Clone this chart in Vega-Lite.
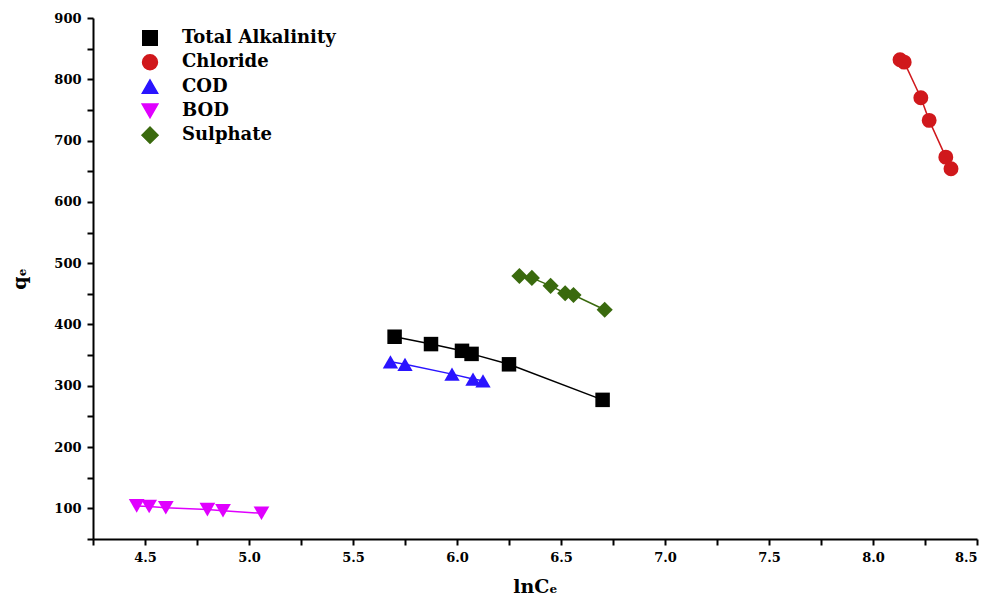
{
  "$schema": "https://vega.github.io/schema/vega-lite/v6.json",
  "autosize": "none",
  "width": 884,
  "height": 521,
  "padding": {"left": 93, "top": 18, "right": 13, "bottom": 62},
  "background": "white",
  "config": {
    "view": {"stroke": null},
    "font": "DejaVu Serif",
    "axis": {
      "grid": false,
      "domainColor": "black",
      "domainWidth": 2,
      "tickColor": "black",
      "tickWidth": 2,
      "tickSize": 6,
      "labelFont": "DejaVu Serif",
      "labelFontWeight": "bold",
      "labelFontSize": 13,
      "labelColor": "black",
      "titleFont": "DejaVu Serif",
      "titleFontWeight": "bold",
      "titleColor": "black"
    },
    "legend": {
      "labelFont": "DejaVu Serif",
      "labelFontWeight": "bold",
      "labelFontSize": 18,
      "labelColor": "black"
    }
  },
  "data": {
    "values": [
      {"s": "Total Alkalinity", "x": 5.70, "y": 380},
      {"s": "Total Alkalinity", "x": 5.875, "y": 368},
      {"s": "Total Alkalinity", "x": 6.024, "y": 357},
      {"s": "Total Alkalinity", "x": 6.07, "y": 352},
      {"s": "Total Alkalinity", "x": 6.25, "y": 335},
      {"s": "Total Alkalinity", "x": 6.70, "y": 277},
      {"s": "Chloride", "x": 8.13, "y": 832},
      {"s": "Chloride", "x": 8.15, "y": 828},
      {"s": "Chloride", "x": 8.23, "y": 770},
      {"s": "Chloride", "x": 8.27, "y": 733},
      {"s": "Chloride", "x": 8.35, "y": 673},
      {"s": "Chloride", "x": 8.375, "y": 654},
      {"s": "COD", "x": 5.68, "y": 339},
      {"s": "COD", "x": 5.75, "y": 335},
      {"s": "COD", "x": 5.976, "y": 319},
      {"s": "COD", "x": 6.077, "y": 311},
      {"s": "COD", "x": 6.125, "y": 308},
      {"s": "BOD", "x": 4.46, "y": 104},
      {"s": "BOD", "x": 4.52, "y": 103},
      {"s": "BOD", "x": 4.60, "y": 101},
      {"s": "BOD", "x": 4.80, "y": 98},
      {"s": "BOD", "x": 4.875, "y": 96},
      {"s": "BOD", "x": 5.06, "y": 92},
      {"s": "Sulphate", "x": 6.30, "y": 479},
      {"s": "Sulphate", "x": 6.36, "y": 476},
      {"s": "Sulphate", "x": 6.45, "y": 463},
      {"s": "Sulphate", "x": 6.52, "y": 451},
      {"s": "Sulphate", "x": 6.56, "y": 448},
      {"s": "Sulphate", "x": 6.71, "y": 424}
    ]
  },
  "encoding": {
    "x": {
      "field": "x", "type": "quantitative",
      "scale": {"domain": [4.25, 8.5], "nice": false, "zero": false},
      "axis": {
        "title": "lnCₑ",
        "titleFontSize": 19,
        "titlePadding": 13,
        "values": [4.25, 4.5, 4.75, 5.0, 5.25, 5.5, 5.75, 6.0, 6.25, 6.5, 6.75, 7.0, 7.25, 7.5, 7.75, 8.0, 8.25, 8.5],
        "labelExpr": "(datum.value * 2) % 1 == 0 ? format(datum.value, '.1f') : ''",
        "labelPadding": 6
      }
    },
    "y": {
      "field": "y", "type": "quantitative",
      "scale": {"domain": [50, 900], "nice": false, "zero": false},
      "axis": {
        "title": "qₑ",
        "titleFontSize": 19,
        "titlePadding": 24,
        "values": [50, 100, 150, 200, 250, 300, 350, 400, 450, 500, 550, 600, 650, 700, 750, 800, 850, 900],
        "labelExpr": "datum.value % 100 == 0 ? datum.value : ''",
        "labelPadding": 6
      }
    },
    "color": {
      "field": "s", "type": "nominal",
      "scale": {
        "domain": ["Total Alkalinity", "Chloride", "COD", "BOD", "Sulphate"],
        "range": ["#000000", "#d0181c", "#2a14ff", "#e000ff", "#3a6a0e"]
      },
      "legend": {
        "title": null,
        "orient": "none",
        "legendX": 48,
        "legendY": 9,
        "symbolSize": 115,
        "symbolOpacity": 1,
        "rowPadding": 2.3,
        "clipHeight": 22,
        "labelOffset": 23
      }
    }
  },
  "layer": [
    {
      "mark": {"type": "point", "filled": true, "opacity": 1},
      "encoding": {
        "shape": {
          "field": "s", "type": "nominal",
          "scale": {
            "domain": ["Total Alkalinity", "Chloride", "COD", "BOD", "Sulphate"],
            "range": ["square", "circle", "triangle-up", "triangle-down", "diamond"]
          },
          "legend": {
            "title": null,
            "orient": "none",
            "legendX": 48,
            "legendY": 9,
            "symbolSize": 115,
            "symbolOpacity": 1,
            "rowPadding": 2.3,
            "clipHeight": 22,
            "labelOffset": 23
          }
        },
        "size": {
          "field": "s", "type": "nominal", "legend": null,
          "scale": {
            "domain": ["Total Alkalinity", "Chloride", "COD", "BOD", "Sulphate"],
            "range": [210, 260, 260, 260, 220]
          }
        }
      }
    },
    {
      "mark": {"type": "line", "strokeWidth": 1.5},
      "encoding": {
        "order": {"field": "x", "type": "quantitative"}
      }
    }
  ]
}
